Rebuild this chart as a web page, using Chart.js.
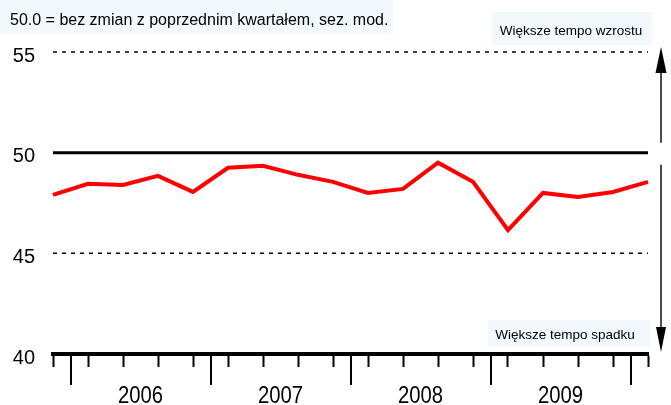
<!DOCTYPE html>
<html>
<head>
<meta charset="utf-8">
<script src="https://cdn.jsdelivr.net/npm/chart.js@4.4.0/dist/chart.umd.min.js"></script>
<style>
  html, body { margin: 0; padding: 0; background: #fff; }
  #wrap { width: 671px; height: 405px; }
</style>
</head>
<body>
<div id="wrap"><canvas id="pmiChart" width="671" height="405"></canvas></div>
<script>
// quarterly index, IV 2005 .. I 2010
const quarters = [
  'IV 2005',
  'I 2006', 'II 2006', 'III 2006', 'IV 2006',
  'I 2007', 'II 2007', 'III 2007', 'IV 2007',
  'I 2008', 'II 2008', 'III 2008', 'IV 2008',
  'I 2009', 'II 2009', 'III 2009', 'IV 2009',
  'I 2010',
];
const values = [
  47.9,
  48.45, 48.4, 48.85, 48.05,
  49.25, 49.35, 48.9, 48.55,
  48.0, 48.2, 49.5, 48.55,
  46.15, 48.0, 47.8, 48.05,
  48.55,
];
const years = ['2006', '2007', '2008', '2009'];
const yearBounds = [0.5, 4.5, 8.5, 12.5, 16.5];
const dashedLevels = [55, 45];
const baseLevel = 50;

const noteText = '50.0 = bez zmian z poprzednim kwartałem, sez. mod.';
const upText = 'Większe tempo wzrostu';
const downText = 'Większe tempo spadku';

const sans = '"Liberation Sans", Arial, sans-serif';
const boxFill = '#f2f8fc';

// linie poziome 55 / 50 / 45
const levelLines = {
  id: 'levelLines',
  beforeDatasetsDraw(chart) {
    const { ctx, chartArea } = chart;
    const y = chart.scales.y;
    ctx.save();
    ctx.strokeStyle = '#000';
    ctx.lineWidth = 1.5;
    ctx.setLineDash([4, 5]);
    dashedLevels.forEach((v) => {
      const py = y.getPixelForValue(v);
      ctx.beginPath();
      ctx.moveTo(chartArea.left, py);
      ctx.lineTo(chartArea.right, py);
      ctx.stroke();
    });
    ctx.setLineDash([]);
    ctx.lineWidth = 3;
    const by = y.getPixelForValue(baseLevel);
    ctx.beginPath();
    ctx.moveTo(chartArea.left, by);
    ctx.lineTo(chartArea.right, by);
    ctx.stroke();
    ctx.restore();
  },
};

function arrow(ctx, x, from, tip, head, half) {
  const dir = tip < from ? -1 : 1;
  ctx.beginPath();
  ctx.moveTo(x, from);
  ctx.lineTo(x, tip - dir * head);
  ctx.stroke();
  ctx.beginPath();
  ctx.moveTo(x, tip);
  ctx.lineTo(x - half, tip - dir * head);
  ctx.lineTo(x + half, tip - dir * head);
  ctx.closePath();
  ctx.fill();
}

// lata, dlugie kreski, opisy i strzalki
const decorations = {
  id: 'decorations',
  afterDraw(chart) {
    const { ctx, chartArea } = chart;
    const x = chart.scales.x;
    const y = chart.scales.y;
    const bottom = chartArea.bottom;
    ctx.save();

    ctx.strokeStyle = '#000';
    ctx.lineWidth = 2;
    yearBounds.forEach((b) => {
      const px = Math.round(x.getPixelForValue(b));
      ctx.beginPath();
      ctx.moveTo(px, bottom + 2);
      ctx.lineTo(px, bottom + 31);
      ctx.stroke();
    });

    // opisy lat - troche zwezone jak w oryginale
    ctx.fillStyle = '#000';
    ctx.font = '23px ' + sans;
    ctx.textAlign = 'center';
    ctx.textBaseline = 'alphabetic';
    years.forEach((yr, i) => {
      const cx = (x.getPixelForValue(yearBounds[i]) + x.getPixelForValue(yearBounds[i + 1])) / 2;
      ctx.save();
      ctx.translate(cx, 403);
      ctx.scale(0.88, 1);
      ctx.fillText(yr, 0, 0);
      ctx.restore();
    });

    // ramki z tekstem
    ctx.fillStyle = boxFill;
    ctx.fillRect(0, 0, 393, 34);
    ctx.fillRect(492, 12, 160, 33);
    ctx.fillRect(488, 320, 162, 27);

    ctx.fillStyle = '#000';
    ctx.textAlign = 'left';
    ctx.font = '16px ' + sans;
    ctx.fillText(noteText, 10, 25);
    ctx.textAlign = 'center';
    ctx.font = '13.5px ' + sans;
    ctx.fillText(upText, 571, 35);
    ctx.fillText(downText, 565, 339);

    // strzalki
    const ax = chartArea.right + 13;
    ctx.strokeStyle = '#111';
    ctx.fillStyle = '#000';
    ctx.lineWidth = 1.5;
    arrow(ctx, ax, y.getPixelForValue(baseLevel) - 10, y.getPixelForValue(55) - 5, 26, 5.5);
    arrow(ctx, ax, y.getPixelForValue(baseLevel) + 12, y.getPixelForValue(40) - 2, 25, 5);

    ctx.restore();
  },
};

const ctx = document.getElementById('pmiChart').getContext('2d');
new Chart(ctx, {
  type: 'line',
  data: {
    labels: quarters,
    datasets: [
      {
        data: values,
        borderColor: '#ff0000',
        borderWidth: 4,
        pointRadius: 0,
        tension: 0,
        fill: false,
      },
    ],
  },
  options: {
    responsive: false,
    animation: false,
    devicePixelRatio: 1,
    layout: { padding: { top: 52, right: 23, left: 0, bottom: 0 } },
    plugins: {
      legend: { display: false },
      tooltip: { enabled: false },
    },
    scales: {
      x: {
        type: 'category',
        offset: false,
        grid: {
          display: true,
          drawOnChartArea: false,
          drawTicks: true,
          tickLength: 13,
          tickWidth: 2,
          tickColor: '#000',
        },
        border: { display: true, color: '#000', width: 4 },
        ticks: { display: false },
        afterFit(scale) {
          scale.height = 51;
        },
      },
      y: {
        type: 'linear',
        min: 40,
        max: 55,
        grid: { display: false, drawTicks: false },
        border: { display: false },
        ticks: {
          stepSize: 5,
          padding: 18,
          labelOffset: 4,
          color: '#000',
          font: { family: sans, size: 20 },
        },
        afterFit(scale) {
          scale.width = 53;
        },
      },
    },
  },
  plugins: [levelLines, decorations],
});
</script>
</body>
</html>
